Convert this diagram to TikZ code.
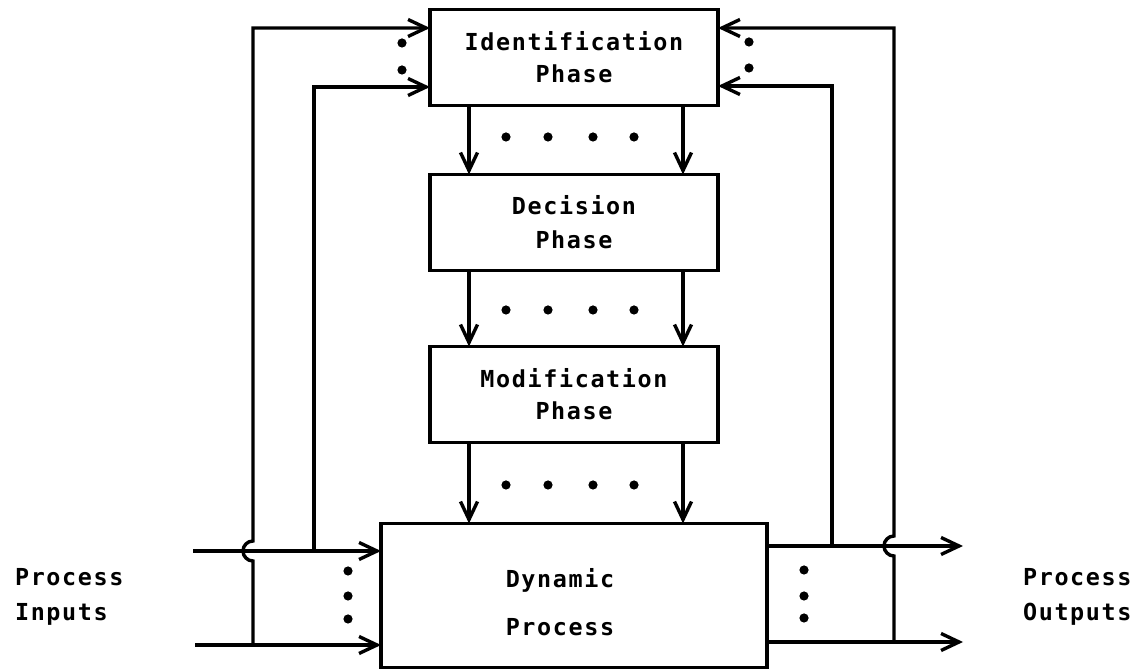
\documentclass[tikz,border=0pt]{standalone}
\usepackage{fontspec}
\newfontfamily\plotfont[LetterSpace=7]{DejaVu Sans Mono}
\usetikzlibrary{arrows.meta,positioning,calc}

\begin{document}
\begin{tikzpicture}[
  x=0.5pt, y=-0.5pt,
  every node/.style={font=\plotfont\bfseries\fontsize{11.7}{16}\selectfont},
  phase/.style={rectangle, draw, line width=1.7pt, minimum width=144pt, minimum height=48pt, align=center, inner sep=0pt, outer sep=0pt},
  arrow/.style={-{Straight Barb[length=9pt, width=8.5pt]}, line width=1.7pt},
  side/.style={anchor=west, align=left, font=\plotfont\bfseries\fontsize{11.7}{17.5}\selectfont}
]
\useasboundingbox (0,0) rectangle (1136,672);
\node[phase] (ident) at (574,57.5) {Identification\\Phase};
\node[phase, below=34.5pt of ident] (dec) {Decision\\[1pt]Phase};
\node[phase, below=38pt of dec] (mod) {Modification\\Phase};
\node[phase, below=40.5pt of mod, minimum width=193pt, minimum height=72pt,
  label={[align=center, xshift=-7pt, yshift=-3.5pt]center:Dynamic\\[8pt]Process}] (dyn) {};
\node[side] (inp) at (8,597) {Process\\Inputs};
\node[side] (outp) at (1016,597) {Process\\Outputs};

% free ends and corners of the loops
\coordinate (in1) at (193,551);
\coordinate (in2) at (195,645);
\coordinate (out1) at (963,546);
\coordinate (out2) at (963,642);
\coordinate (lfa) at (253,28);
\coordinate (lfb) at (314,87);
\coordinate (rfa) at (894,28);
\coordinate (rfb) at (832,86);
\coordinate (coll) at (469,0);
\coordinate (colr) at (683,0);

% inputs and outputs
\draw[arrow] (in1) -- (in1 -| dyn.west);
\draw[arrow] (in2) -- (in2 -| dyn.west);
\draw[arrow] (out1 -| dyn.east) -- (out1);
\draw[arrow] (out2 -| dyn.east) -- (out2);

% feedback into identification
\draw[arrow] (lfa |- in2) -- ($(lfa |- in1)+(0,10)$) arc[start angle=-90, end angle=-270, radius=5pt] -- (lfa) -- (lfa -| ident.west);
\draw[arrow] (lfb |- in1) -- (lfb) -- (lfb -| ident.west);
\draw[arrow] (rfb |- out1) -- (rfb) -- (rfb -| ident.east);
\draw[arrow] (rfa |- out2) -- ($(rfa |- out1)+(0,10)$) arc[start angle=-90, end angle=-270, radius=5pt] -- (rfa) -- (rfa -| ident.east);

% phase to phase
\foreach \a/\b in {ident/dec, dec/mod, mod/dyn} {
  \draw[arrow] (coll |- \a.south) -- (coll |- \b.north);
  \draw[arrow] (colr |- \a.south) -- (colr |- \b.north);
}

% dots
\foreach \y in {137,310,485}
  \foreach \x in {506,548,593,634}
    \fill (\x,\y) circle[radius=2.3pt];
\foreach \x/\y in {402/43, 402/70, 749/42, 749/68, 348/571, 348/596, 348/619, 804/570, 804/596, 804/618}
  \fill (\x,\y) circle[radius=2.3pt];
\end{tikzpicture}
\end{document}
